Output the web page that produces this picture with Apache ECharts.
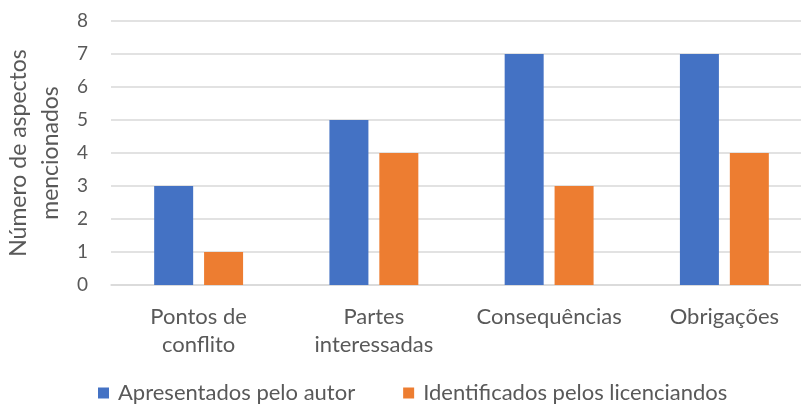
<!DOCTYPE html>
<html>
<head>
<meta charset="utf-8">
<script src="https://cdn.jsdelivr.net/npm/echarts@6/dist/echarts.min.js"></script>
<style>
  html, body { margin: 0; padding: 0; background: #fff; overflow: hidden; }
  #chart-panel { width: 812px; height: 409px; }
</style>
</head>
<body>
<div id="chart-panel"></div>
<script>
const categories = ["Pontos de\nconflito", "Partes\ninteressadas", "Consequências", "Obrigações"]
const autorValues = [3, 5, 7, 7]
const licenciandosValues = [1, 4, 3, 4]
const seriesNames = ["Apresentados pelo autor", "Identificados pelos licenciandos"]

// chart is a bit wider than the window: the reference is cropped on the right
const chart = echarts.init(document.getElementById("chart-panel"))
const font = "Lato, 'Open Sans', sans-serif"
const textColor = "#595959"

const options = {
  animation: false,
  color: ["#4472C4", "#ED7D31"],
  grid: {
    left: 111,
    right: 0,
    top: 21,
    bottom: 124,
    outerBoundsMode: "none"
  },
  legend: {
    bottom: 0,
    left: 93,
    icon: "rect",
    itemWidth: 11,
    itemHeight: 11,
    itemGap: 48,
    data: seriesNames,
    textStyle: { color: textColor, fontSize: 22, fontFamily: font, padding: [0, 0, 0, 4] }
  },
  xAxis: {
    type: "category",
    data: categories,
    axisTick: { show: false },
    axisLine: { lineStyle: { color: "#d9d9d9", width: 1.5 } },
    axisLabel: {
      interval: 0,
      color: textColor,
      fontSize: 22,
      fontFamily: font,
      margin: 18,
      lineHeight: 28
    }
  },
  yAxis: {
    type: "value",
    min: 0,
    max: 8,
    interval: 1,
    name: "Número de aspectos\nmencionados",
    nameLocation: "middle",
    nameRotate: 90,
    nameGap: 36,
    nameTextStyle: {
      color: textColor,
      fontSize: 23,
      fontFamily: font,
      lineHeight: 32
    },
    axisLabel: { color: textColor, fontSize: 19, fontFamily: font, margin: 23 },
    splitLine: { lineStyle: { color: "#d9d9d9", width: 1.5 } }
  },
  series: [
    {
      name: seriesNames[0],
      type: "bar",
      data: autorValues,
      barWidth: 39,
      barGap: "28%"
    },
    {
      name: seriesNames[1],
      type: "bar",
      data: licenciandosValues,
      barWidth: 39,
      barGap: "28%"
    }
  ]
}
chart.setOption(options)
</script>
</body>
</html>
